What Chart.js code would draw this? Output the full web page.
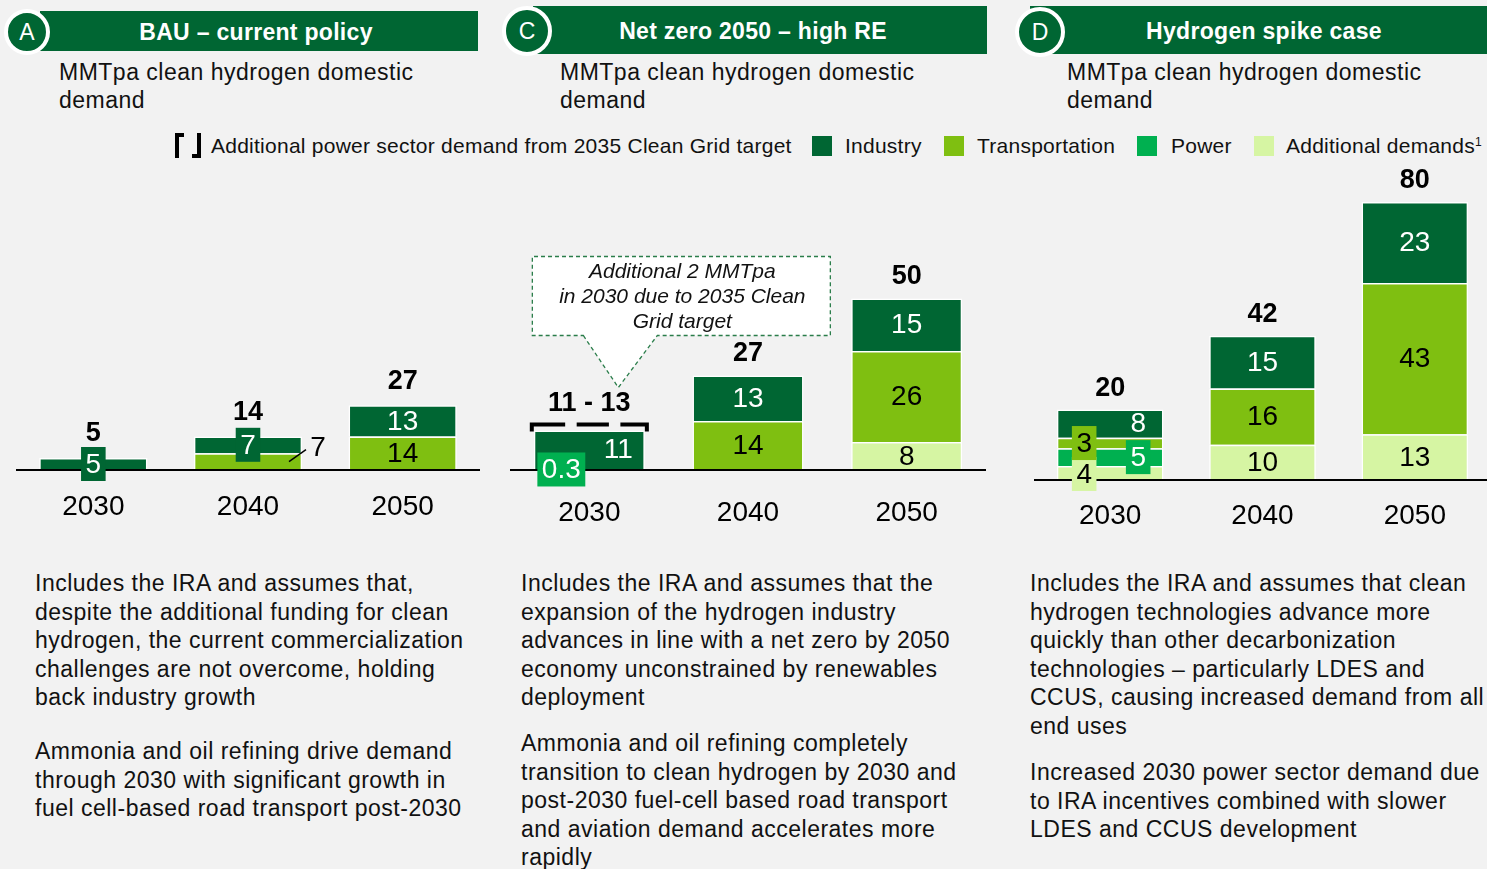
<!DOCTYPE html>
<html>
<head>
<meta charset="utf-8">
<script src="https://cdn.jsdelivr.net/npm/chart.js@4.4.1/dist/chart.umd.min.js"></script>
<style>
  html, body { margin: 0; padding: 0; }
  body {
    width: 1487px; height: 869px; position: relative; overflow: hidden;
    background: #f2f2f2; color: #111;
    font-family: "Liberation Sans", Arial, sans-serif;
  }
  .hdr {
    position: absolute; background: #006633; color: #fff;
    font-weight: bold; font-size: 23px; letter-spacing: 0.3px;
    display: flex; align-items: center; justify-content: center; box-sizing: border-box;
  }
  .badge {
    position: absolute; border-radius: 50%; background: #006633; border: 4px solid #fff;
    color: #fff; font-size: 23px; box-sizing: border-box;
    display: flex; align-items: center; justify-content: center;
  }
  .sub { position: absolute; font-size: 23px; letter-spacing: 0.5px; line-height: 28px; white-space: nowrap; }
  .note { position: absolute; font-size: 23px; letter-spacing: 0.5px; line-height: 28.5px; white-space: nowrap; }
  .lg { position: absolute; top: 135px; font-size: 21px; letter-spacing: 0.25px; line-height: 22px; white-space: nowrap; }
  .sw { position: absolute; top: 136px; width: 20px; height: 20px; }
  .brk { position: absolute; top: 133px; width: 5px; height: 21px; border: 0 solid #000; }
  canvas { position: absolute; }
</style>
</head>
<body>

<div class="hdr" style="left:40px;top:11px;width:438px;height:40px;padding-right:6px;padding-top:2px">BAU – current policy</div>
<div class="badge" style="left:4px;top:9px;width:46px;height:46px">A</div>
<div class="hdr" style="left:533px;top:6px;width:454px;height:48px;padding-right:14px;padding-top:2px">Net zero 2050 – high RE</div>
<div class="badge" style="left:502px;top:6px;width:50px;height:50px">C</div>
<div class="hdr" style="left:1030px;top:6px;width:457px;height:48px;padding-left:11px;padding-top:2px">Hydrogen spike case</div>
<div class="badge" style="left:1015px;top:7px;width:50px;height:50px">D</div>

<div class="sub" style="left:59px;top:58px">MMTpa clean hydrogen domestic<br>demand</div>
<div class="sub" style="left:560px;top:58px">MMTpa clean hydrogen domestic<br>demand</div>
<div class="sub" style="left:1067px;top:58px">MMTpa clean hydrogen domestic<br>demand</div>

<div class="brk" style="left:175px;border-left-width:4px;border-top-width:4px"></div>
<div class="brk" style="left:192px;border-right-width:4px;border-bottom-width:4px"></div>
<div class="lg" style="left:211px">Additional power sector demand from 2035 Clean Grid target</div>
<div class="sw" style="left:812px;background:#006633"></div>
<div class="lg" style="left:845px">Industry</div>
<div class="sw" style="left:944px;background:#7fbf11"></div>
<div class="lg" style="left:977px">Transportation</div>
<div class="sw" style="left:1137px;background:#00b050"></div>
<div class="lg" style="left:1171px">Power</div>
<div class="sw" style="left:1254px;background:#d6f5a3"></div>
<div class="lg" style="left:1286px">Additional demands<sup style="font-size:12px;vertical-align:7px;line-height:0">1</sup></div>

<canvas id="chartA" width="464" height="390" style="left:16px;top:150px"></canvas>
<canvas id="chartC" width="476" height="390" style="left:510px;top:150px"></canvas>
<canvas id="chartD" width="457" height="390" style="left:1034px;top:150px"></canvas>

<div class="note" style="left:35px;top:569px">Includes the IRA and assumes that,<br>despite the additional funding for clean<br>hydrogen, the current commercialization<br>challenges are not overcome, holding<br>back industry growth</div>
<div class="note" style="left:35px;top:737px">Ammonia and oil refining drive demand<br>through 2030 with significant growth in<br>fuel cell-based road transport post-2030</div>

<div class="note" style="left:521px;top:569px">Includes the IRA and assumes that the<br>expansion of the hydrogen industry<br>advances in line with a net zero by 2050<br>economy unconstrained by renewables<br>deployment</div>
<div class="note" style="left:521px;top:729px">Ammonia and oil refining completely<br>transition to clean hydrogen by 2030 and<br>post-2030 fuel-cell based road transport<br>and aviation demand accelerates more<br>rapidly</div>

<div class="note" style="left:1030px;top:569px">Includes the IRA and assumes that clean<br>hydrogen technologies advance more<br>quickly than other decarbonization<br>technologies – particularly LDES and<br>CCUS, causing increased demand from all<br>end uses</div>
<div class="note" style="left:1030px;top:758px">Increased 2030 power sector demand due<br>to IRA incentives combined with slower<br>LDES and CCUS development</div>

<script>
const years = ['2030', '2040', '2050'];

// A: BAU – current policy (MMTpa)
const bauIndustry = [5, 7, 13];
const bauTransport = [0, 7, 14];
const bauPower = [0, 0, 0];
const bauAdditional = [0, 0, 0];
const bauTotals = ['5', '14', '27'];

// C: Net zero 2050 – high RE
const nzIndustry = [11, 13, 15];
const nzTransport = [0, 14, 26];
const nzPower = [0.3, 0, 0];
const nzAdditional = [0, 0, 8];
const nzTotals = ['11 - 13', '27', '50'];
const nzCleanGridHigh = [13, null, null];

// D: Hydrogen spike case
const h2Industry = [8, 15, 23];
const h2Transport = [3, 16, 43];
const h2Power = [5, 0, 0];
const h2Additional = [4, 10, 13];
const h2Totals = ['20', '42', '80'];

const COLORS = {
  industry: '#006633',
  transport: '#7fbf11',
  power: '#00b050',
  additional: '#d6f5a3',
};
const FONT = '"Liberation Sans", Arial, sans-serif';

const panelLabels = {
  id: 'panelLabels',
  afterDatasetsDraw(chart, args, o) {
    const { ctx, chartArea, scales: { x, y } } = chart;
    const base = y.getPixelForValue(0);
    ctx.save();

    ctx.strokeStyle = '#000';
    ctx.lineWidth = 2;
    ctx.beginPath();
    ctx.moveTo(chartArea.left, base);
    ctx.lineTo(chartArea.right, base);
    ctx.stroke();

    ctx.textAlign = 'center';
    ctx.textBaseline = 'middle';
    const tops = years.map(() => base);

    chart.data.datasets.forEach((ds, di) => {
      chart.getDatasetMeta(di).data.forEach((bar, i) => {
        const v = ds.data[i];
        if (!v) return;
        tops[i] = Math.min(tops[i], bar.y);
        const spec = (o.special || {})[ds.key + i] || {};
        const segMid = (bar.y + bar.base) / 2;
        const tx = bar.x + (spec.dx || 0);
        const ty = segMid + (spec.dy || 0);
        const txt = String(v);
        ctx.font = '28px ' + FONT;
        if (spec.box) {
          const w = ctx.measureText(txt).width + 9;
          ctx.fillStyle = ds.backgroundColor;
          ctx.fillRect(tx - w / 2, ty - 17, w, 34);
        }
        if (spec.leader) {
          ctx.strokeStyle = '#000';
          ctx.lineWidth = 1.5;
          ctx.beginPath();
          ctx.moveTo(bar.x + 41, segMid);
          ctx.lineTo(bar.x + 58, segMid - 12);
          ctx.stroke();
        }
        ctx.fillStyle = spec.leader ? '#000' : ds.textColor;
        ctx.fillText(txt, tx, ty + 1);
      });
    });

    // dashed bracket for the 2035 Clean Grid range
    (o.bracketHigh || []).forEach((hi, i) => {
      if (hi == null) return;
      const bar = chart.getDatasetMeta(chart.data.datasets.length - 1).data[i];
      const by = y.getPixelForValue(hi);
      const l = bar.x - bar.width / 2 - 2;
      const w = bar.width + 4;
      ctx.strokeStyle = '#000';
      ctx.lineWidth = 4;
      ctx.beginPath();
      ctx.moveTo(l, by + 7); ctx.lineTo(l, by); ctx.lineTo(l + w * 0.29, by);
      ctx.moveTo(l + w * 0.39, by); ctx.lineTo(l + w * 0.67, by);
      ctx.moveTo(l + w * 0.77, by); ctx.lineTo(l + w, by); ctx.lineTo(l + w, by + 7);
      ctx.stroke();
      tops[i] = Math.min(tops[i], by + 1);

      if (o.callout) {
        const tip = { x: bar.x + 29, y: by - 37 };
        const L = tip.x - 86, R = tip.x + 212, T = tip.y - 131, B = tip.y - 52;
        ctx.beginPath();
        ctx.moveTo(tip.x - 35, B);
        ctx.lineTo(tip.x, tip.y);
        ctx.lineTo(tip.x + 39, B);
        ctx.lineTo(R, B); ctx.lineTo(R, T); ctx.lineTo(L, T); ctx.lineTo(L, B);
        ctx.closePath();
        ctx.fillStyle = '#fff';
        ctx.fill();
        ctx.setLineDash([4, 3]);
        ctx.strokeStyle = '#2a7d4a';
        ctx.lineWidth = 1.3;
        ctx.stroke();
        ctx.setLineDash([]);
        ctx.fillStyle = '#111';
        ctx.font = 'italic 21px ' + FONT;
        o.callout.forEach((line, k) => {
          ctx.fillText(line, tip.x + 64, T + 16 + k * 25);
        });
      }
    });

    ctx.fillStyle = '#000';
    ctx.font = 'bold 27px ' + FONT;
    o.totals.forEach((t, i) => ctx.fillText(t, x.getPixelForValue(i), tops[i] - o.totalGap));

    ctx.font = '28px ' + FONT;
    years.forEach((yr, i) => ctx.fillText(yr, x.getPixelForValue(i), base + o.yearGap));
    ctx.restore();
  },
};

function makePanel(id, series, opts) {
  const canvas = document.getElementById(id);
  const plotH = canvas.height - opts.padBottom;
  const mk = (key, label, data, textColor) => ({
    key, label, data, textColor,
    backgroundColor: COLORS[key],
    borderColor: '#ffffff',
    borderWidth: 1.5,
    barPercentage: 0.7,
    categoryPercentage: 1,
  });
  return new Chart(canvas, {
    type: 'bar',
    data: {
      labels: years,
      datasets: [
        mk('additional', 'Additional demands', series.additional, '#000'),
        mk('power', 'Power', series.power, '#fff'),
        mk('transport', 'Transportation', series.transport, '#000'),
        mk('industry', 'Industry', series.industry, '#fff'),
      ],
    },
    options: {
      responsive: false,
      animation: false,
      layout: { padding: { top: 0, left: 0, right: 0, bottom: opts.padBottom } },
      scales: {
        x: { display: false, stacked: true },
        y: { display: false, stacked: true, min: 0, max: plotH / opts.pxPerUnit },
      },
      plugins: {
        legend: { display: false },
        tooltip: { enabled: false },
        panelLabels: opts,
      },
    },
    plugins: [panelLabels],
  });
}

makePanel('chartA',
  { industry: bauIndustry, transport: bauTransport, power: bauPower, additional: bauAdditional },
  {
    pxPerUnit: 2.4, padBottom: 70, yearGap: 37, totalGap: 24, totals: bauTotals,
    special: { industry0: { box: true }, industry1: { box: true }, transport1: { leader: true, dx: 70, dy: -14 } },
  });

makePanel('chartC',
  { industry: nzIndustry, transport: nzTransport, power: nzPower, additional: nzAdditional },
  {
    pxPerUnit: 3.5, padBottom: 70, yearGap: 43, totalGap: 22, totals: nzTotals, bracketHigh: nzCleanGridHigh,
    callout: ['Additional 2 MMTpa', 'in 2030 due to 2035 Clean', 'Grid target'],
    special: { industry0: { dx: 29 }, power0: { box: true, dx: -28 } },
  });

makePanel('chartD',
  { industry: h2Industry, transport: h2Transport, power: h2Power, additional: h2Additional },
  {
    pxPerUnit: 3.52, padBottom: 60, yearGap: 36, totalGap: 21, totals: h2Totals,
    special: {
      industry0: { dx: 28 }, transport0: { box: true, dx: -26 },
      power0: { box: true, dx: 28 }, additional0: { box: true, dx: -26, dy: 1 },
    },
  });
</script>
</body>
</html>
